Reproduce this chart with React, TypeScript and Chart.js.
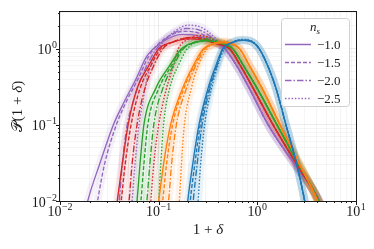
import { useEffect, useRef } from "react";
import { Chart, registerables } from "chart.js";

Chart.register(...registerables);

type Pt = [number, number];

// ---------- data: [1+delta, P(1+delta)] ----------
const blueTail: Pt[] = [[1.047, 1.0], [1.349, 0.5], [1.549, 0.3], [1.95, 0.1], [2.512, 0.03], [3.02, 0.01], [3.311, 0.005]];
const blueSolid: Pt[] = [[0.186, 0.005], [0.197, 0.01], [0.221, 0.03], [0.256, 0.1], [0.316, 0.3], [0.38, 0.6], [0.445, 1.0], [0.55, 1.2], [0.708, 1.29], [0.871, 1.24], ...blueTail];
const blueDashed: Pt[] = [[0.2, 0.005], [0.209, 0.01], [0.232, 0.03], [0.264, 0.1], [0.324, 0.3], [0.385, 0.6], [0.447, 1.0], [0.55, 1.2], [0.708, 1.3], [0.871, 1.25], ...blueTail];
const blueDashDot: Pt[] = [[0.214, 0.005], [0.224, 0.01], [0.245, 0.03], [0.275, 0.1], [0.331, 0.3], [0.389, 0.6], [0.452, 1.0], [0.55, 1.21], [0.708, 1.31], [0.871, 1.25], ...blueTail];
const blueDotted: Pt[] = [[0.24, 0.005], [0.251, 0.01], [0.266, 0.03], [0.292, 0.1], [0.343, 0.3], [0.398, 0.6], [0.462, 1.0], [0.562, 1.23], [0.708, 1.33], [0.871, 1.27], ...blueTail];

const orangeTail: Pt[] = [[0.661, 1.0], [0.832, 0.6], [1.122, 0.3], [1.698, 0.1], [2.692, 0.03], [4.074, 0.01], [4.898, 0.005]];
const orangeSolid: Pt[] = [[0.0933, 0.005], [0.1, 0.01], [0.112, 0.03], [0.132, 0.1], [0.174, 0.3], [0.224, 0.6], [0.282, 1.0], [0.355, 1.15], [0.447, 1.2], [0.55, 1.15], ...orangeTail];
const orangeDashed: Pt[] = [[0.102, 0.005], [0.11, 0.01], [0.12, 0.03], [0.138, 0.1], [0.18, 0.3], [0.229, 0.6], [0.288, 1.0], [0.355, 1.16], [0.447, 1.22], [0.55, 1.16], ...orangeTail];
const orangeDashDot: Pt[] = [[0.117, 0.005], [0.126, 0.01], [0.135, 0.03], [0.151, 0.1], [0.191, 0.3], [0.237, 0.6], [0.295, 1.0], [0.355, 1.17], [0.447, 1.23], [0.55, 1.17], ...orangeTail];
const orangeDotted: Pt[] = [[0.155, 0.005], [0.162, 0.01], [0.17, 0.03], [0.182, 0.1], [0.214, 0.3], [0.251, 0.6], [0.309, 1.0], [0.372, 1.19], [0.457, 1.26], [0.55, 1.19], ...orangeTail];

const greenTail: Pt[] = [[0.562, 1.0], [0.724, 0.6], [1.0, 0.3], [1.585, 0.1], [2.63, 0.03], [4.169, 0.01], [5.012, 0.005]];
const greenSolid: Pt[] = [[0.0562, 0.005], [0.0603, 0.01], [0.0646, 0.03], [0.0708, 0.1], [0.0933, 0.3], [0.129, 0.6], [0.17, 1.0], [0.229, 1.2], [0.302, 1.27], [0.398, 1.2], ...greenTail];
const greenDashed: Pt[] = [[0.0617, 0.005], [0.0661, 0.01], [0.0708, 0.03], [0.0776, 0.1], [0.1, 0.3], [0.135, 0.6], [0.174, 1.0], [0.234, 1.22], [0.302, 1.29], [0.398, 1.21], ...greenTail];
const greenDashDot: Pt[] = [[0.0708, 0.005], [0.0759, 0.01], [0.0813, 0.03], [0.0891, 0.1], [0.11, 0.3], [0.141, 0.6], [0.178, 1.0], [0.24, 1.24], [0.309, 1.31], [0.398, 1.22], ...greenTail];
const greenDotted: Pt[] = [[0.0955, 0.005], [0.1, 0.01], [0.105, 0.03], [0.112, 0.1], [0.129, 0.3], [0.158, 0.6], [0.195, 1.0], [0.251, 1.27], [0.316, 1.36], [0.407, 1.25], ...greenTail];

const redTail: Pt[] = [[0.525, 1.0], [0.676, 0.6], [0.912, 0.3], [1.445, 0.1], [2.512, 0.03], [4.169, 0.01], [5.012, 0.005]];
const redSolid: Pt[] = [[0.0355, 0.005], [0.038, 0.01], [0.0427, 0.03], [0.049, 0.1], [0.0603, 0.3], [0.0794, 0.6], [0.1, 1.0], [0.132, 1.2], [0.2, 1.35], [0.282, 1.3], [0.398, 1.15], ...redTail];
const redDashed: Pt[] = [[0.0389, 0.005], [0.0417, 0.01], [0.0457, 0.03], [0.0525, 0.1], [0.0646, 0.3], [0.0832, 0.6], [0.105, 1.0], [0.138, 1.23], [0.209, 1.4], [0.295, 1.33], [0.398, 1.16], ...redTail];
const redDashDot: Pt[] = [[0.0468, 0.005], [0.0501, 0.01], [0.0537, 0.03], [0.0603, 0.1], [0.0724, 0.3], [0.0891, 0.6], [0.11, 1.0], [0.145, 1.25], [0.219, 1.42], [0.302, 1.35], [0.398, 1.17], ...redTail];
const redDotted: Pt[] = [[0.0794, 0.005], [0.0832, 0.01], [0.0891, 0.03], [0.1, 0.1], [0.12, 0.3], [0.141, 0.6], [0.158, 1.0], [0.191, 1.3], [0.251, 1.5], [0.331, 1.4], [0.417, 1.18], ...redTail];

const purpleTail: Pt[] = [[0.468, 1.0], [0.617, 0.6], [0.832, 0.3], [1.288, 0.1], [2.399, 0.03], [4.266, 0.01], [5.248, 0.005]];
const purpleSolid: Pt[] = [[0.017, 0.005], [0.0191, 0.01], [0.0251, 0.03], [0.0347, 0.1], [0.0447, 0.2], [0.0589, 0.4], [0.0759, 0.8], [0.105, 1.2], [0.138, 1.45], [0.174, 1.55], [0.24, 1.5], [0.355, 1.25], ...purpleTail];
const purpleDashed: Pt[] = [[0.0219, 0.005], [0.024, 0.01], [0.0282, 0.03], [0.0372, 0.1], [0.0468, 0.2], [0.0617, 0.4], [0.0794, 0.8], [0.102, 1.2], [0.138, 1.55], [0.182, 1.7], [0.251, 1.62], [0.355, 1.3], ...purpleTail];
const purpleDashDot: Pt[] = [[0.0372, 0.005], [0.0398, 0.01], [0.0427, 0.03], [0.0479, 0.1], [0.055, 0.2], [0.0661, 0.4], [0.0851, 0.8], [0.107, 1.2], [0.141, 1.6], [0.191, 1.85], [0.263, 1.75], [0.363, 1.35], ...purpleTail];
const purpleDotted: Pt[] = [[0.0501, 0.005], [0.0537, 0.01], [0.0575, 0.03], [0.0631, 0.1], [0.0692, 0.2], [0.0759, 0.4], [0.0912, 0.8], [0.11, 1.2], [0.145, 1.7], [0.2, 2.05], [0.275, 1.9], [0.372, 1.4], ...purpleTail];

const nsLabels = ["\u22121.0", "\u22121.5", "\u22122.0", "\u22122.5"];
const xMajorTicks = [0.01, 0.1, 1, 10];
const xTickExps = ["\u22122", "\u22121", "0", "1"];
const yMajorTicks = [0.01, 0.1, 1];
const yTickExps = ["\u22122", "\u22121", "0"];
const X_MIN = 0.01, X_MAX = 10, Y_MIN = 0.01, Y_MAX = 3.05;

const groups = [
  { color: "#1f77b4", curves: [blueSolid, blueDashed, blueDashDot, blueDotted] },
  { color: "#ff7f0e", curves: [orangeSolid, orangeDashed, orangeDashDot, orangeDotted] },
  { color: "#2ca02c", curves: [greenSolid, greenDashed, greenDashDot, greenDotted] },
  { color: "#d62728", curves: [redSolid, redDashed, redDashDot, redDotted] },
  { color: "#9467bd", curves: [purpleSolid, purpleDashed, purpleDashDot, purpleDotted] },
];

const DASHES: number[][] = [[], [4, 2], [6.5, 2, 1.5, 2], [1.5, 1.8]];
const SERIF = "'Liberation Serif', 'DejaVu Serif', serif";

function rgba(hex: string, a: number) {
  const n = parseInt(hex.slice(1), 16);
  return `rgba(${(n >> 16) & 255},${(n >> 8) & 255},${n & 255},${a})`;
}
function logTicks(min: number, max: number) {
  const out: number[] = [];
  for (let e = Math.floor(Math.log10(min)); e <= Math.ceil(Math.log10(max)); e++) {
    for (let m = 1; m <= 9; m++) {
      const v = m * Math.pow(10, e);
      if (v >= min * 0.9999 && v <= max * 1.0001) out.push(v);
    }
  }
  return out;
}
function isMajor(v: number) {
  const l = Math.log10(v);
  return Math.abs(l - Math.round(l)) < 1e-6;
}

function drawPow(ctx: CanvasRenderingContext2D, exp: string, x: number, y: number, align: "center" | "right", base = 13, small = 9.5) {
  ctx.font = `${base}px ${SERIF}`;
  const wb = ctx.measureText("10").width;
  ctx.font = `${small}px ${SERIF}`;
  const we = ctx.measureText(exp).width;
  const total = wb + we + 0.5;
  const start = align === "center" ? x - total / 2 : x - total;
  ctx.textAlign = "left";
  ctx.textBaseline = "alphabetic";
  ctx.font = `${base}px ${SERIF}`;
  ctx.fillText("10", start, y);
  ctx.font = `${small}px ${SERIF}`;
  ctx.fillText(exp, start + wb + 0.5, y - 6);
}

const decorPlugin = {
  id: "decor",
  afterDraw(chart: any) {
    const { ctx, chartArea: a, scales } = chart;
    const xs = scales.x, ys = scales.y;
    ctx.save();
    ctx.fillStyle = "#1a1a1a";
    ctx.strokeStyle = "#1a1a1a";
    ctx.lineWidth = 1;
    ctx.setLineDash([]);
    // frame
    ctx.strokeRect(a.left - 0.5, a.top - 0.5, a.right - a.left + 1, a.bottom - a.top + 1);
    // tick marks
    for (const v of logTicks(X_MIN, X_MAX)) {
      const px = Math.round(xs.getPixelForValue(v)) + 0.5;
      const len = isMajor(v) ? 4 : 2;
      ctx.beginPath();
      ctx.moveTo(px, a.bottom);
      ctx.lineTo(px, a.bottom + len);
      ctx.stroke();
    }
    for (const v of logTicks(Y_MIN, Y_MAX)) {
      const py = Math.round(ys.getPixelForValue(v)) + 0.5;
      const len = isMajor(v) ? 4 : 2;
      ctx.beginPath();
      ctx.moveTo(a.left, py);
      ctx.lineTo(a.left - len, py);
      ctx.stroke();
    }
    // tick labels
    xMajorTicks.forEach((v, i) => drawPow(ctx, xTickExps[i], xs.getPixelForValue(v), a.bottom + 15, "center", 14, 10));
    yMajorTicks.forEach((v, i) => drawPow(ctx, yTickExps[i], a.left - 3, ys.getPixelForValue(v) + 5.5, "right", 14, 10));

    // x title "1 + δ"
    ctx.textBaseline = "alphabetic";
    ctx.textAlign = "left";
    ctx.font = `15px ${SERIF}`;
    const p1 = "1 + ";
    const w1 = ctx.measureText(p1).width;
    ctx.font = `italic 15px ${SERIF}`;
    const w2 = ctx.measureText("\u03b4").width;
    const cx = (a.left + a.right) / 2;
    let sx = cx - (w1 + w2) / 2;
    ctx.font = `15px ${SERIF}`;
    ctx.fillText(p1, sx, a.bottom + 33);
    ctx.font = `italic 15px ${SERIF}`;
    ctx.fillText("\u03b4", sx + w1, a.bottom + 33);

    // y title "𝒫(1 + δ)"
    ctx.save();
    ctx.translate(22, (a.top + a.bottom) / 2);
    ctx.rotate(-Math.PI / 2);
    const partA = "\u{1D4AB}(1 + ";
    const partB = "\u03b4";
    const partC = ")";
    ctx.font = `15px ${SERIF}`;
    const wa = ctx.measureText(partA).width;
    const wc = ctx.measureText(partC).width;
    ctx.font = `italic 15px ${SERIF}`;
    const wbb = ctx.measureText(partB).width;
    sx = -(wa + wbb + wc) / 2;
    ctx.font = `15px ${SERIF}`;
    ctx.fillText(partA, sx, 0);
    ctx.font = `italic 15px ${SERIF}`;
    ctx.fillText(partB, sx + wa, 0);
    ctx.font = `15px ${SERIF}`;
    ctx.fillText(partC, sx + wa + wbb, 0);
    ctx.restore();

    // legend
    const bw = 68, bh = 88;
    const bx = a.right - bw - 7, by = a.top + 6;
    ctx.beginPath();
    (ctx as any).roundRect(bx + 0.5, by + 0.5, bw, bh, 3);
    ctx.fillStyle = "rgba(255,255,255,0.85)";
    ctx.fill();
    ctx.strokeStyle = "#d0d0d0";
    ctx.stroke();
    ctx.fillStyle = "#1a1a1a";
    // title n_s
    ctx.font = `italic 13px ${SERIF}`;
    const wn = ctx.measureText("n").width;
    ctx.font = `italic 9px ${SERIF}`;
    const ws = ctx.measureText("s").width;
    const tx = bx + bw / 2 - (wn + ws) / 2;
    ctx.font = `italic 13px ${SERIF}`;
    ctx.fillText("n", tx, by + 13);
    ctx.font = `italic 9px ${SERIF}`;
    ctx.fillText("s", tx + wn, by + 15.5);
    const purple = groups[4].color;
    nsLabels.forEach((lab, i) => {
      const ry = by + 26 + i * 18;
      ctx.strokeStyle = purple;
      ctx.lineWidth = 1.5;
      ctx.setLineDash(DASHES[i]);
      ctx.beginPath();
      ctx.moveTo(bx + 4, ry + 0.5);
      ctx.lineTo(bx + 30, ry + 0.5);
      ctx.stroke();
      ctx.setLineDash([]);
      ctx.font = `13px ${SERIF}`;
      ctx.fillStyle = "#1a1a1a";
      ctx.fillText(lab, bx + 36, ry + 4.5);
    });
    ctx.restore();
  },
};

export default function App() {
  const ref = useRef<HTMLCanvasElement>(null);
  useEffect(() => {
    const canvas = ref.current;
    if (!canvas) return;
    const lineSets: any[] = [];
    const bandSets: any[] = [];
    groups.forEach((g) => {
      g.curves.forEach((c, i) => {
        const data = c.map(([x, y]) => ({ x, y }));
        lineSets.push({
          data,
          borderColor: g.color,
          borderWidth: 1.35,
          borderDash: DASHES[i],
          pointRadius: 0,
          cubicInterpolationMode: "monotone",
          fill: false,
          clip: 0,
        });
        bandSets.push({
          data,
          borderColor: rgba(g.color, 0.09),
          borderWidth: 8,
          borderDash: [],
          pointRadius: 0,
          cubicInterpolationMode: "monotone",
          fill: false,
          clip: 0,
        });
      });
    });
    const gridColor = (c: any) => (c.tick && isMajor(c.tick.value) ? "rgba(0,0,0,0.08)" : "rgba(0,0,0,0.04)");
    const chart = new Chart(canvas, {
      type: "line",
      data: { datasets: [...lineSets, ...bandSets] },
      options: {
        animation: false,
        responsive: false,
        devicePixelRatio: 1,
        events: [],
        layout: { padding: { left: 60, right: 18, top: 12, bottom: 48 } },
        plugins: { legend: { display: false }, tooltip: { enabled: false } },
        scales: {
          x: {
            type: "logarithmic",
            min: X_MIN,
            max: X_MAX,
            ticks: { display: false },
            grid: { drawTicks: false, color: gridColor, lineWidth: 1 },
            border: { display: false },
            afterBuildTicks: (s: any) => {
              s.ticks = logTicks(X_MIN, X_MAX).map((v) => ({ value: v }));
            },
          },
          y: {
            type: "logarithmic",
            min: Y_MIN,
            max: Y_MAX,
            ticks: { display: false },
            grid: { drawTicks: false, color: gridColor, lineWidth: 1 },
            border: { display: false },
            afterBuildTicks: (s: any) => {
              s.ticks = logTicks(Y_MIN, Y_MAX).map((v) => ({ value: v }));
            },
          },
        },
      } as any,
      plugins: [decorPlugin],
    });
    return () => chart.destroy();
  }, []);
  return (
    <canvas
      ref={ref}
      width={374}
      height={249}
      style={{ position: "absolute", left: 0, top: 0, width: 374, height: 249, display: "block" }}
    />
  );
}
